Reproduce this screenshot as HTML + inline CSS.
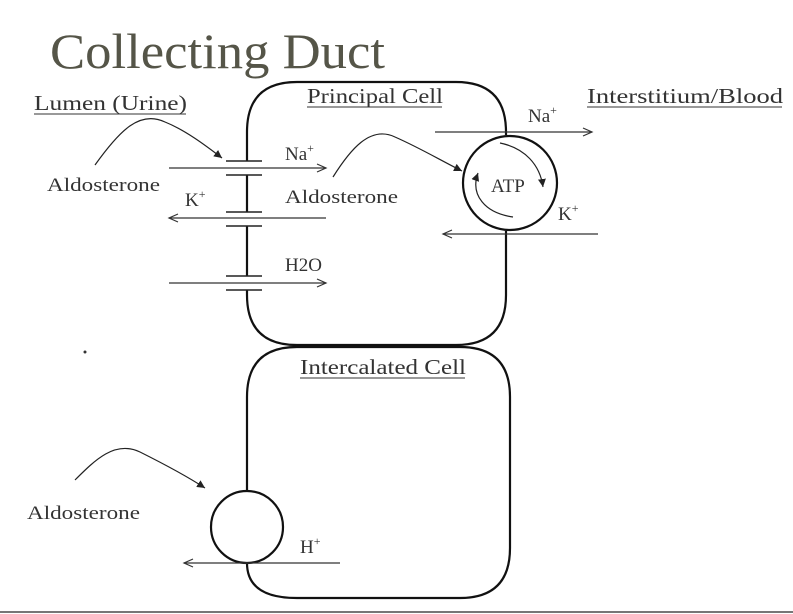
<!DOCTYPE html>
<html><head><style>html,body{margin:0;padding:0;background:#fff}svg{display:block}</style></head><body>
<svg width="793" height="614" viewBox="0 0 793 614" xmlns="http://www.w3.org/2000/svg" font-family="Liberation Serif, serif">
<defs>
<marker id="a" markerWidth="12" markerHeight="10" refX="10" refY="5" orient="auto" markerUnits="userSpaceOnUse"><path d="M1,1 L10,5 L1,9" fill="none" stroke="#333" stroke-width="1.2"/></marker>
<marker id="f" markerWidth="10" markerHeight="8" refX="8" refY="4" orient="auto" markerUnits="userSpaceOnUse"><path d="M0,0 L8,4 L0,8 Z" fill="#222"/></marker>
</defs>
<rect width="793" height="614" fill="#fff"/>
<line x1="0" y1="612" x2="793" y2="612" stroke="#777" stroke-width="2"/>
<text x="50" y="68" font-size="50" fill="#555548" textLength="335" lengthAdjust="spacingAndGlyphs">Collecting Duct</text>
<g fill="#333" font-size="21">
<text x="34" y="110" textLength="153" lengthAdjust="spacingAndGlyphs">Lumen (Urine)</text>
<line x1="34" y1="114" x2="186" y2="114" stroke="#333"/>
<text x="307" y="103" textLength="136" lengthAdjust="spacingAndGlyphs">Principal Cell</text>
<line x1="307" y1="107" x2="442" y2="107" stroke="#333"/>
<text x="587" y="103" textLength="196" lengthAdjust="spacingAndGlyphs">Interstitium/Blood</text>
<line x1="587" y1="107" x2="782" y2="107" stroke="#333"/>
<text x="300" y="374" textLength="166" lengthAdjust="spacingAndGlyphs">Intercalated Cell</text>
<line x1="300" y1="378" x2="465" y2="378" stroke="#333"/>
</g>
<g fill="#333" font-size="19">
<text x="47" y="191" textLength="113" lengthAdjust="spacingAndGlyphs">Aldosterone</text>
<text x="285" y="203" textLength="113" lengthAdjust="spacingAndGlyphs">Aldosterone</text>
<text x="27" y="519" textLength="113" lengthAdjust="spacingAndGlyphs">Aldosterone</text>
<text x="285" y="160">Na<tspan font-size="12" dy="-8">+</tspan></text>
<text x="185" y="206">K<tspan font-size="12" dy="-8">+</tspan></text>
<text x="285" y="271">H2O</text>
<text x="528" y="122">Na<tspan font-size="12" dy="-8">+</tspan></text>
<text x="558" y="220">K<tspan font-size="12" dy="-8">+</tspan></text>
<text x="491" y="192">ATP</text>
<text x="300" y="553">H<tspan font-size="12" dy="-8">+</tspan></text>
</g>
<g fill="none" stroke="#111" stroke-width="2.2">
<path d="M247,161 L247,132 Q247,82 297,82 L456,82 Q506,82 506,132 L506,135"/>
<path d="M506,231 L506,295 Q506,345 456,345 L297,345 Q247,345 247,295 L247,290"/>
<path d="M247,175 L247,212 M247,226 L247,276"/>
<path d="M247,491 L247,397 Q247,347 297,347 L460,347 Q510,347 510,397 L510,548 Q510,598 460,598 L297,598 Q247,598 247,563"/>
<circle cx="510" cy="183" r="47"/>
<circle cx="247" cy="527" r="36"/>
</g>
<g stroke="#222" stroke-width="1.6">
<path d="M226,161 H262 M226,175 H262 M226,212 H262 M226,226 H262 M226,276 H262 M226,290 H262"/>
</g>
<g fill="none" stroke="#333" stroke-width="1.3" marker-end="url(#a)">
<line x1="169" y1="168" x2="326" y2="168"/>
<line x1="326" y1="218" x2="169" y2="218"/>
<line x1="169" y1="283" x2="326" y2="283"/>
<line x1="435" y1="132" x2="592" y2="132"/>
<line x1="598" y1="234" x2="443" y2="234"/>
<line x1="340" y1="563" x2="184" y2="563"/>
</g>
<g fill="none" stroke="#222" stroke-width="1.2" marker-end="url(#f)">
<path d="M95,165 C120,130 140,110 165,122 C185,130 205,145 222,158"/>
<path d="M333,177 C350,150 370,125 395,137 C420,148 440,160 462,171"/>
<path d="M75,480 C95,460 115,440 140,452 C160,462 185,475 205,488"/>
<path d="M500,143 C525,148 540,165 543,187"/>
<path d="M513,217 C485,213 470,195 478,173"/>
</g>
<circle cx="85" cy="352" r="1.5" fill="#333"/>
</svg>
</body></html>
